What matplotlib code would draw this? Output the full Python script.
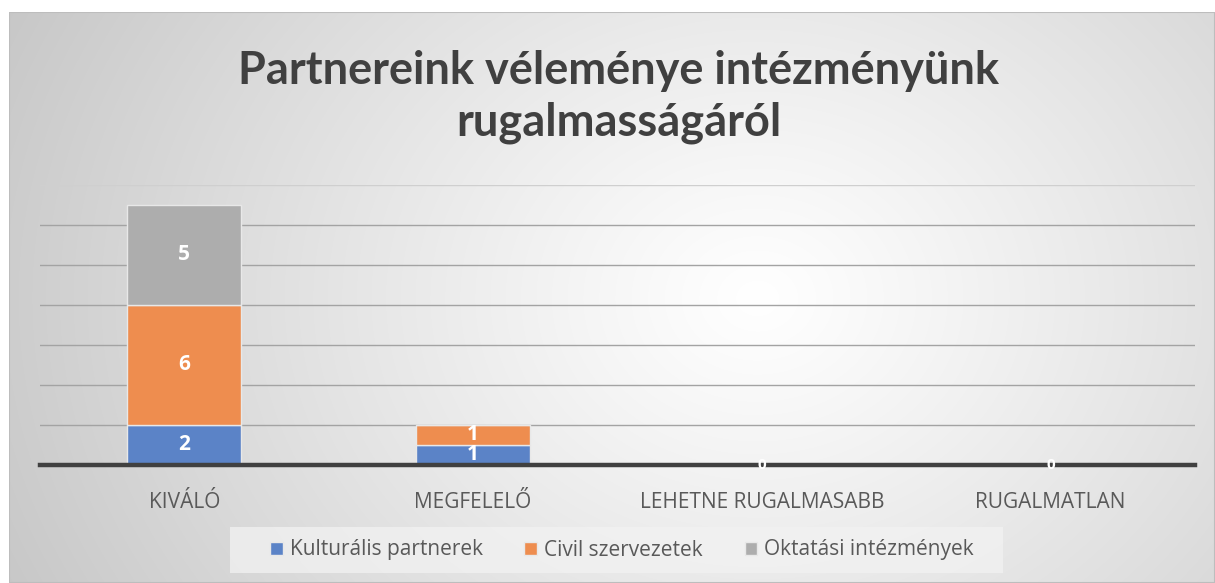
import numpy as np
import matplotlib
matplotlib.use("Agg")
import matplotlib.pyplot as plt
from matplotlib.patches import Rectangle

categories = ["KIVÁLÓ", "MEGFELELŐ", "LEHETNE RUGALMASABB", "RUGALMATLAN"]
series_names = ["Kulturális partnerek", "Civil szervezetek", "Oktatási intézmények"]
kulturalis = [2, 1, 0, 0]
civil = [6, 1, 0, 0]
oktatasi = [5, 0, 0, 0]
title = "Partnereink véleménye intézményünk\nrugalmasságáról"

colors = ["#5b83c7", "#ee8d4f", "#adadad"]
font = ["Open Sans", "DejaVu Sans"]
tfont = ["Lato", "DejaVu Sans"]

W, H = 1215, 583
fig = plt.figure(figsize=(W / 100, H / 100), dpi=100)
fig.patch.set_facecolor("white")

# background with radial gradient
bx0, by0 = 9, 12
bg = fig.add_axes([bx0 / W, 0, 1 - bx0 / W, 1 - by0 / H], zorder=0)
ny, nx = 300, 600
yy, xx = np.mgrid[0:ny, 0:nx]
cx, cy = 0.62 * nx, 0.5 * ny
d = np.sqrt(((xx - cx) / (nx * 0.75)) ** 2 + ((yy - cy) / (ny * 1.3)) ** 2)
d = np.clip(d, 0, 1)
val = 1.0 - 0.24 * d ** 1.1
img = np.dstack([val, val, val])
bg.imshow(img, aspect="auto", extent=[0, 1, 0, 1], interpolation="bilinear")
bg.set_xlim(0, 1); bg.set_ylim(0, 1)
bg.axis("off")
bg.add_patch(Rectangle((0, 0), 1, 1, transform=bg.transAxes, fill=False,
                       edgecolor="#bdbdbd", linewidth=1.5))

# main axes
left, right, bottom, top = 40, 1195, 465, 185
ax = fig.add_axes([left / W, (H - bottom) / H, (right - left) / W, (bottom - top) / H], zorder=2)
ax.patch.set_alpha(0)
x = np.arange(len(categories))
bw = 0.395
data = [kulturalis, civil, oktatasi]
base = np.zeros(len(categories))
for vals, c, name in zip(data, colors, series_names):
    vals = np.array(vals, dtype=float)
    ax.bar(x, vals, bw, bottom=base, color=c, edgecolor="#e8e8e8", linewidth=1.0,
           label=name, zorder=3)
    for xi, v, b in zip(x, vals, base):
        if v > 0:
            ax.text(xi, b + v / 2, f"{int(v)}", ha="center", va="center", color="white",
                    fontsize=15, fontweight="bold", family=font, zorder=5)
    base = base + vals

# zero labels for empty categories
for xi, tot in zip(x, base):
    if tot == 0:
        ax.text(xi, 0, "0", ha="center", va="center", color="white",
                fontsize=11, fontweight="bold", family=font, zorder=6)

ymax = 14
ax.set_xlim(-0.5, len(categories) - 0.5)
ax.set_ylim(0, ymax)
for yv in np.arange(2, ymax + 1, 2):
    ax.axhline(yv, color="#a3a3a3" if yv < ymax else "#cfcfcf", linewidth=1.0, zorder=1)
ax.set_yticks([])
ax.tick_params(axis="x", bottom=False, pad=16)
ax.set_xticks(x)
ax.set_xticklabels(categories, fontsize=15, color="#595959", family=font)
for s in ["top", "right", "left"]:
    ax.spines[s].set_visible(False)
ax.spines["bottom"].set_color("#404040")
ax.spines["bottom"].set_linewidth(3.2)
ax.spines["bottom"].set_zorder(4)

fig.text(619 / W, 1 - 97 / H, title, ha="center", va="center", fontsize=32.5,
         fontweight="bold", color="#404040", family=tfont, linespacing=1.3)

# legend box
lx0, lx1, ly0, ly1 = 230, 1003, 527, 573
fig.patches.append(Rectangle((lx0 / W, 1 - ly1 / H), (lx1 - lx0) / W, (ly1 - ly0) / H,
                             transform=fig.transFigure, facecolor="#f2f2f2", alpha=0.75,
                             edgecolor="none", zorder=1))
leg = fig.legend(loc="center", bbox_to_anchor=(622 / W, 1 - 550 / H), ncol=3, frameon=False,
                 prop={"family": font, "size": 15}, handlelength=0.6, handleheight=0.6,
                 handletextpad=0.35, columnspacing=2.0, labelcolor="#595959")
plt.savefig("out.png", dpi=100)
